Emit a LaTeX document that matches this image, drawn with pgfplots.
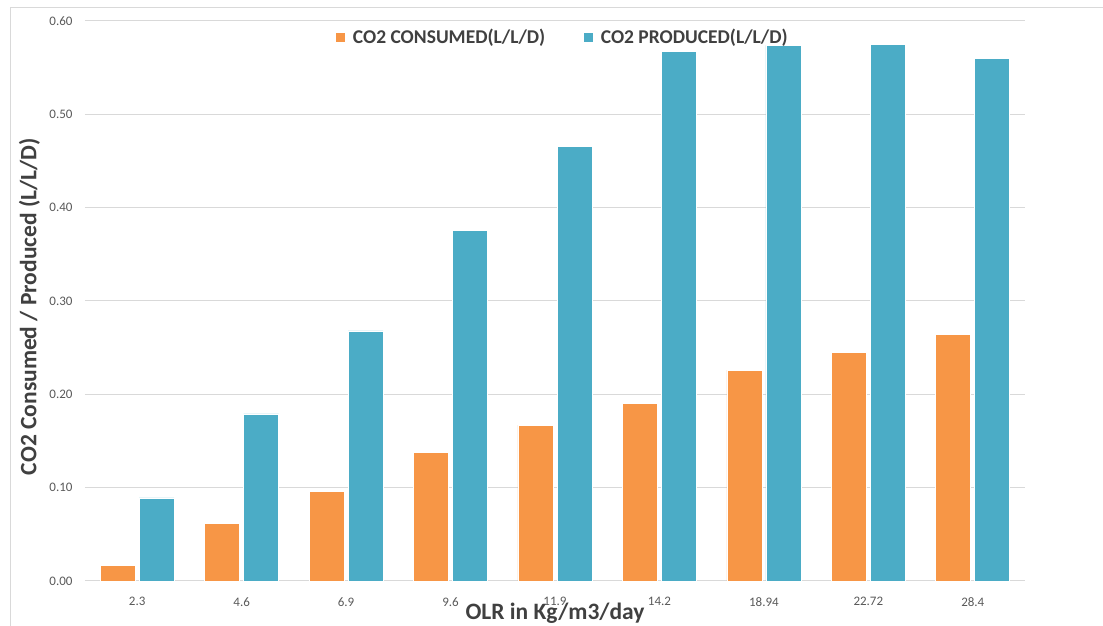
\documentclass[border=0pt]{standalone}
\usepackage{fontspec}
\setmainfont{Carlito}
\usepackage{pgfplots}
\pgfplotsset{compat=1.18}
\definecolor{consumed}{HTML}{F79646}
\definecolor{produced}{HTML}{4BACC6}
\definecolor{ticktext}{HTML}{595959}
\definecolor{labeltext}{HTML}{404040}
\definecolor{gridgray}{HTML}{D9D9D9}
\begin{document}
\begin{tikzpicture}[x=1pt,y=1pt]
\useasboundingbox (0,0) rectangle (1103,626);
\begin{scope}
\clip (0,0) rectangle (1103,626);
\draw[gridgray, line width=1pt] (10,-10) rectangle (1120,618);
\end{scope}
\begin{axis}[
  at={(85pt,45pt)}, anchor=south west,
  scale only axis,
  width=940pt, height=560pt,
  ybar=4pt, bar width=35pt,
  xmin=-0.5, xmax=8.5,
  ymin=0, ymax=0.6,
  xtick=data,
  xticklabels={2.3,4.6,6.9,9.6,11.9,14.2,18.94,22.72,28.4},
  ytick={0,0.1,0.2,0.3,0.4,0.5,0.6},
  yticklabel style={/pgf/number format/fixed, /pgf/number format/fixed zerofill,
    /pgf/number format/precision=2},
  /pgf/number format/assume math mode=true,
  ymajorgrids,
  grid style={gridgray, line width=1pt},
  axis x line*=bottom,
  axis y line*=left,
  x axis line style={draw=gridgray, line width=1pt, -},
  y axis line style={draw=none},
  major tick length=0pt,
  tick label style={font=\fontsize{13}{15}\selectfont, text=ticktext},
  yticklabel style={xshift=-9pt},
  xticklabel style={yshift=-13pt},
  ytick style={draw=none}, xtick style={draw=none},
  xlabel={OLR in Kg/m3/day},
  ylabel={CO2 Consumed / Produced (L/L/D)},
  label style={font=\bfseries\fontsize{23.5}{26}\selectfont, text=labeltext},
  xlabel style={at={(axis description cs:0.5,-0.058)}, anchor=center},
  ylabel style={at={(axis description cs:-0.059,0.49)}, anchor=center},
  legend columns=2,
  legend style={at={(axis description cs:0.508,0.971)}, anchor=center,
    draw=none, fill=none, font=\bfseries\fontsize{19.5}{22}\selectfont,
    text=labeltext, column sep=5pt,
    /tikz/every odd column/.append style={column sep=5pt},
    /tikz/every even column/.append style={column sep=36pt}},
  legend image code/.code={\fill[#1] (0pt,-5pt) rectangle (10pt,5pt);},
  clip=false,
]
\addplot[fill=consumed, draw=white, line width=0.6pt] coordinates
  {(0,0.017) (1,0.062) (2,0.096) (3,0.138) (4,0.167) (5,0.190) (6,0.226) (7,0.245) (8,0.264)};
\addplot[fill=produced, draw=white, line width=0.6pt] coordinates
  {(0,0.089) (1,0.179) (2,0.268) (3,0.376) (4,0.466) (5,0.567) (6,0.574) (7,0.575) (8,0.560)};
\legend{CO2 CONSUMED(L/L/D),CO2 PRODUCED(L/L/D)}
\end{axis}
\end{tikzpicture}
\end{document}
